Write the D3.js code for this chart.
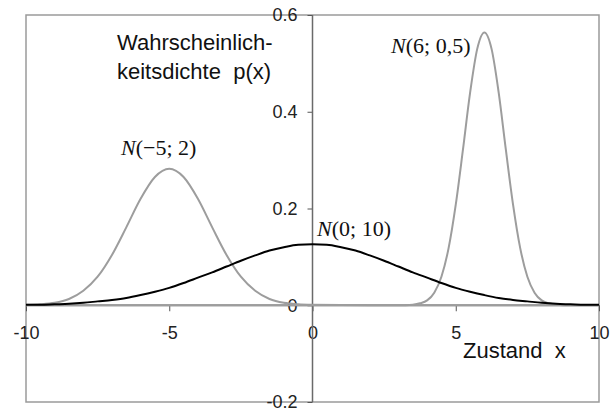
<!DOCTYPE html>
<html>
<head>
<meta charset="utf-8">
<script src="https://cdn.jsdelivr.net/npm/d3@7"></script>
<style>
  html, body { margin: 0; padding: 0; background: #fff; }
  svg { display: block; }
  .tick text { font-family: "Liberation Sans", Arial, sans-serif; font-size: 18px; fill: #222; }
</style>
</head>
<body>
<svg id="chart" width="611" height="414"></svg>
<script>
// Sampled densities p(x) of three normal distributions
const xTicks = [-10, -5, 0, 5, 10];
const xTickLabels = ["-10", "-5", "0", "5", "10"];
const yTicks = [-0.2, 0, 0.2, 0.4, 0.6];
const yTickLabels = ["-0.2", "0", "0.2", "0.4", "0.6"];

// N(-5; 2), sampled every 0.5
const xA = [-10, -9.5, -9, -8.5, -8, -7.5, -7, -6.5, -6, -5.5, -5, -4.5, -4, -3.5, -3, -2.5, -2, -1.5, -1, -0.5, 0, 2, 4, 6, 8, 10];
const pA = [0.001, 0.002, 0.005, 0.013, 0.030, 0.059, 0.104, 0.161, 0.220, 0.265, 0.282, 0.265, 0.220, 0.161, 0.104, 0.059, 0.030, 0.013, 0.005, 0.002, 0.001, 0, 0, 0, 0, 0];

// N(0; 10), sampled every 0.5
const xB = [-10, -9.5, -9, -8.5, -8, -7.5, -7, -6.5, -6, -5.5, -5, -4.5, -4, -3.5, -3, -2.5, -2, -1.5, -1, -0.5, 0, 0.5, 1, 1.5, 2, 2.5, 3, 3.5, 4, 4.5, 5, 5.5, 6, 6.5, 7, 7.5, 8, 8.5, 9, 9.5, 10];
const pB = [0.001, 0.001, 0.002, 0.003, 0.005, 0.008, 0.011, 0.015, 0.021, 0.028, 0.036, 0.046, 0.057, 0.068, 0.080, 0.092, 0.103, 0.113, 0.120, 0.125, 0.126, 0.125, 0.120, 0.113, 0.103, 0.092, 0.080, 0.068, 0.057, 0.046, 0.036, 0.028, 0.021, 0.015, 0.011, 0.008, 0.005, 0.003, 0.002, 0.001, 0.001];

// N(6; 0,5), sampled every 0.25 around the peak
const xC = [-10, -6, -2, 2, 3, 3.25, 3.5, 3.75, 4, 4.25, 4.5, 4.75, 5, 5.25, 5.5, 5.75, 6, 6.25, 6.5, 6.75, 7, 7.25, 7.5, 7.75, 8, 8.25, 8.5, 8.75, 9, 10];
const pC = [0, 0, 0, 0, 0, 0, 0.001, 0.004, 0.010, 0.026, 0.059, 0.118, 0.208, 0.321, 0.439, 0.530, 0.564, 0.530, 0.439, 0.321, 0.208, 0.118, 0.059, 0.026, 0.010, 0.004, 0.001, 0, 0, 0];

const svg = d3.select("#chart");
const plot = { left: 26, right: 599, top: 15, bottom: 402 };

const x = d3.scaleLinear().domain([-10, 10]).range([plot.left, plot.right]);
const y = d3.scaleLinear().domain([-0.2, 0.6]).range([plot.bottom, plot.top]);

// plot frame
svg.append("rect")
  .attr("x", plot.left).attr("y", plot.top)
  .attr("width", plot.right - plot.left).attr("height", plot.bottom - plot.top)
  .attr("fill", "none").attr("stroke", "#9a9a9a").attr("stroke-width", 1.5);

// horizontal axis through p = 0
const xAxis = svg.append("g")
  .attr("transform", `translate(0,${y(0)})`)
  .call(d3.axisBottom(x).tickValues(xTicks).tickSize(6).tickPadding(15)
    .tickFormat((d, i) => xTickLabels[i]));
xAxis.select(".domain").remove();
xAxis.selectAll(".tick line").attr("stroke", "#555");
svg.append("line")
  .attr("x1", plot.left).attr("x2", plot.right)
  .attr("y1", y(0)).attr("y2", y(0))
  .attr("stroke", "#8c8c8c").attr("stroke-width", 2);

// vertical axis through x = 0
const yAxis = svg.append("g")
  .attr("transform", `translate(${x(0)},0)`)
  .call(d3.axisLeft(y).tickValues(yTicks).tickSize(5).tickPadding(10)
    .tickFormat((d, i) => yTickLabels[i]));
yAxis.select(".domain").remove();
yAxis.selectAll(".tick line").attr("stroke", "#555");
svg.append("line")
  .attr("x1", x(0)).attr("x2", x(0))
  .attr("y1", plot.top).attr("y2", plot.bottom)
  .attr("stroke", "#6a6a6a").attr("stroke-width", 1.5);

// density curves
const line = d3.line()
  .x(d => x(d[0])).y(d => y(d[1]))
  .curve(d3.curveMonotoneX);

const curves = [
  { xs: xA, ps: pA, color: "#9d9d9d" },
  { xs: xC, ps: pC, color: "#9d9d9d" },
  { xs: xB, ps: pB, color: "#000000" }
];
curves.forEach(c => {
  svg.append("path")
    .datum(c.xs.map((v, i) => [v, c.ps[i]]))
    .attr("d", line)
    .attr("fill", "none")
    .attr("stroke", c.color)
    .attr("stroke-width", 2)
    .attr("stroke-linejoin", "round");
});

// axis titles
const sans = "'Liberation Sans', Arial, sans-serif";
const title = svg.append("text")
  .attr("font-family", sans).attr("font-size", 22).attr("fill", "#111");
title.append("tspan").attr("x", 117).attr("y", 50).text("Wahrscheinlich-");
title.append("tspan").attr("x", 117).attr("y", 79).attr("xml:space", "preserve").text("keitsdichte  p(x)");

svg.append("text")
  .attr("x", 463).attr("y", 358)
  .attr("font-family", sans).attr("font-size", 22).attr("fill", "#111")
  .attr("xml:space", "preserve")
  .text("Zustand  x");

// curve labels: italic N followed by the parameters
const serif = "'Liberation Serif', 'Times New Roman', serif";
const curveLabels = [
  { x: 121, y: 155, params: "(\u22125; 2)" },
  { x: 317, y: 236, params: "(0; 10)" },
  { x: 391, y: 53, params: "(6; 0,5)" }
];
curveLabels.forEach(lab => {
  const t = svg.append("text")
    .attr("x", lab.x).attr("y", lab.y)
    .attr("font-family", serif).attr("font-size", 22).attr("fill", "#111");
  t.append("tspan").attr("font-style", "italic").text("N");
  t.append("tspan").text(lab.params);
});
</script>
</body>
</html>
